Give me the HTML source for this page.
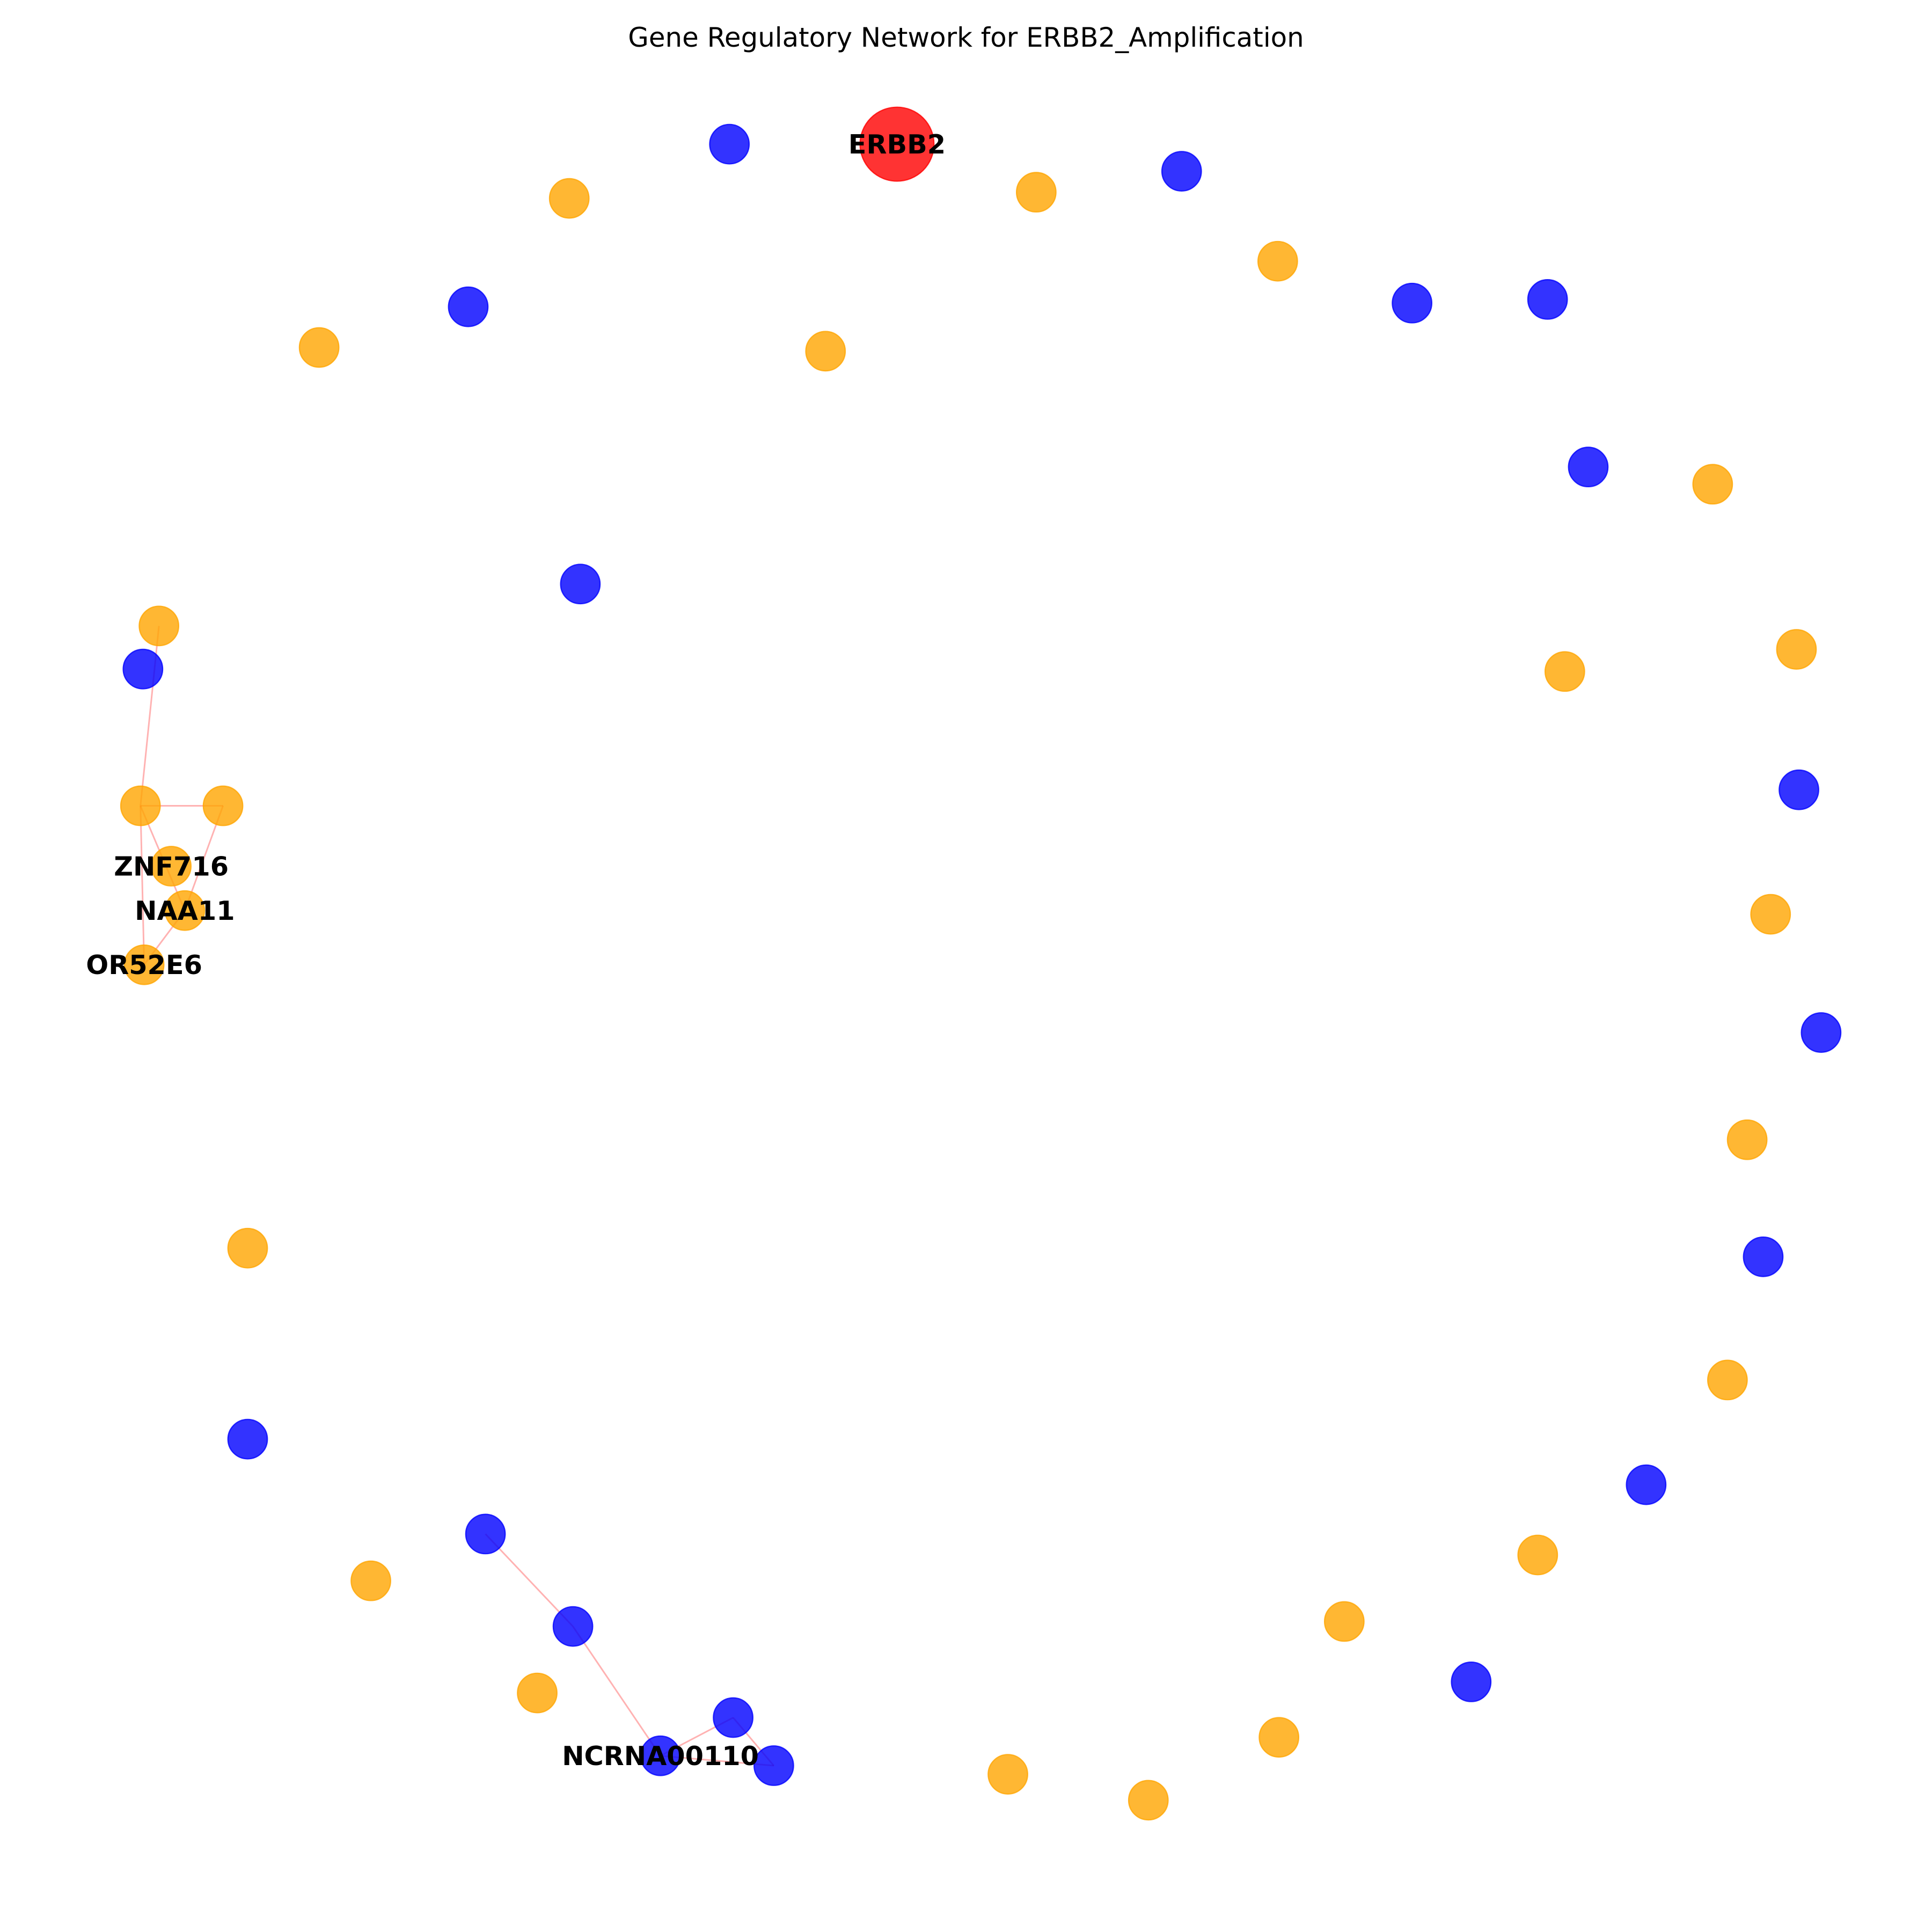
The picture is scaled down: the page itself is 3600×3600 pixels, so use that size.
<!DOCTYPE html>
<html><head><meta charset="utf-8"><style>html,body{margin:0;padding:0;background:#fff}svg{display:block}</style></head>
<body>
<svg id="chart" width="3600" height="3600" viewBox="0 0 1568 1568" xmlns="http://www.w3.org/2000/svg">
<text x="784" y="38" text-anchor="middle" font-family="DejaVu Sans, Liberation Sans, sans-serif" font-size="21.7" fill="#000">Gene Regulatory Network for ERBB2_Amplification</text>
<g id="edges"></g>
<g id="nodes"></g>
<g id="labels"></g>
</svg>
<script>
const nodeIds = ["ERBB2","n1","n2","n3","n4","n5","n6","n7","n8","n9","n10","n11","n12","n13","n14","n15","n16","n17","n18","n19","n20","n21","n22","n23","n24","n25","n26","n27","n28","n29","n30","NCRNA00110","n32","n33","n34","n35","n36","n37","n38","n39","n40","n41","ZNF716","NAA11","OR52E6"];
const nodeX = [728,592,462,380,259,670,471,841,959,1037,1146,1256,1289,1390,1458,1270,1460,1437,1478,1418,1431,1402,1336,1248,1091,1194,1038,932,818,628,595,536,465,436,394,301,201,201,129,116,114,181,139,150,117];
const nodeY = [117,117,161,249,282,285,474,156,139,212,246,243,379,393,527,545,641,742,838,925,1020,1120,1205,1262,1316,1365,1410,1461,1440,1433,1394,1425,1320,1374,1245,1283,1168,1013,508,543,654,654,703,739,783];
const nodeType = ["target","B","O","B","O","O","B","O","B","O","B","B","B","O","O","O","B","O","B","O","B","O","B","O","O","B","O","O","O","B","B","B","B","O","B","O","B","O","O","B","O","O","O","O","O"];
const edgeFrom = ["n38","n40","n40","n40","n41","NAA11","n34","n32","NCRNA00110","n30","NCRNA00110"];
const edgeTo   = ["n40","n41","NAA11","OR52E6","NAA11","OR52E6","n32","NCRNA00110","n30","n29","n29"];
const labelIds = ["ERBB2","ZNF716","NAA11","OR52E6","NCRNA00110"];
const NS="http://www.w3.org/2000/svg";
const idx = id => nodeIds.indexOf(id);
const px = i => nodeX[i], py = i => nodeY[i];
const fills = {O:"rgba(255,165,0,0.8)",B:"rgba(0,0,255,0.8)",target:"rgba(255,0,0,0.8)"};
const eg=document.getElementById('edges');
for(let k=0;k<edgeFrom.length;k++){
  const a=idx(edgeFrom[k]), b=idx(edgeTo[k]);
  const l=document.createElementNS(NS,'line');
  l.setAttribute('x1',px(a));l.setAttribute('y1',py(a));l.setAttribute('x2',px(b));l.setAttribute('y2',py(b));
  l.setAttribute('stroke','rgba(255,0,0,0.3)');l.setAttribute('stroke-width','1.3');
  
  
  eg.appendChild(l);
}
const ng=document.getElementById('nodes');
for(let i=0;i<nodeIds.length;i++){
  const c=document.createElementNS(NS,'circle');
  const t=nodeType[i];
  c.setAttribute('cx',px(i));c.setAttribute('cy',py(i));
  c.setAttribute('r',t==='target'?30:16);
  c.setAttribute('fill',fills[t]);
  c.setAttribute('stroke',fills[t]);c.setAttribute('stroke-width','1');
  
  
  ng.appendChild(c);
}
const lg=document.getElementById('labels');
for(const id of labelIds){
  const i=idx(id);
  const tx=document.createElementNS(NS,'text');
  tx.setAttribute('x',px(i));tx.setAttribute('y',py(i)+7.5);
  tx.setAttribute('text-anchor','middle');tx.setAttribute('font-weight','bold');
  tx.setAttribute('font-size','21.5');tx.setAttribute('font-family','DejaVu Sans, Liberation Sans, sans-serif');
  tx.textContent=id;
  
  
  lg.appendChild(tx);
}
</script>
</body></html>
